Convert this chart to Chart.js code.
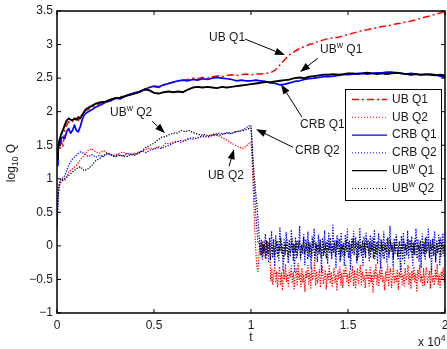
<!DOCTYPE html>
<html><head><meta charset="utf-8">
<script src="https://cdn.jsdelivr.net/npm/chart.js@4.4.1/dist/chart.umd.min.js"></script>
<style>html,body{margin:0;padding:0;background:#fff}</style>
</head><body>
<canvas id="c" width="447" height="349" style="width:447px;height:349px;display:block"></canvas>
<script>
// ---------- data (t in units of 10^4) ----------
const tQ1 = [0,0.005,0.01,0.015,0.02,0.03,0.04,0.05,0.06,0.07,0.08,0.09,0.1,0.11,0.12,0.13,0.14,0.15,
0.175,0.2,0.225,0.25,0.275,0.3,0.325,0.35,0.375,0.4,0.425,0.45,0.475,0.5,0.525,0.55,0.575,0.6,0.625,0.65,0.675,0.7,0.725,0.75,0.775,0.8,0.825,0.85,0.875,0.9,0.925,0.95,0.975,1.0,1.025,1.05,1.075,1.1,1.125,1.15,1.175,1.2,1.225,1.25,1.275,1.3,1.325,1.35,1.375,1.4,1.425,1.45,1.475,1.5,1.525,1.55,1.575,1.6,1.625,1.65,1.675,1.7,1.725,1.75,1.775,1.8,1.825,1.85,1.875,1.9,1.925,1.95,1.975,2.0];

const ubQ1 = [1.25,1.35,1.5,1.45,1.6,1.47,1.72,1.8,1.85,1.83,1.86,1.85,1.9,1.87,1.92,1.97,2.0,2.02,
2.05,2.1,2.12,2.15,2.18,2.2,2.22,2.24,2.25,2.27,2.3,2.33,2.36,2.37,2.36,2.4,2.42,2.44,2.46,2.47,2.48,2.5,2.49,2.51,2.5,2.52,2.53,2.52,2.54,2.55,2.54,2.55,2.56,2.55,2.56,2.56,2.57,2.58,2.62,2.7,2.78,2.85,2.9,2.94,2.97,3.0,3.02,3.05,3.07,3.09,3.1,3.11,3.13,3.15,3.17,3.19,3.21,3.22,3.24,3.25,3.27,3.28,3.29,3.31,3.32,3.34,3.35,3.37,3.39,3.41,3.43,3.45,3.47,3.49];

const crbQ1 = [1.2,1.45,1.55,1.5,1.6,1.62,1.6,1.7,1.75,1.68,1.72,1.8,1.72,1.7,1.78,1.88,1.95,1.98,
2.02,2.07,2.1,2.14,2.16,2.2,2.19,2.23,2.26,2.28,2.3,2.33,2.36,2.38,2.37,2.4,2.42,2.44,2.46,2.47,2.46,2.48,2.47,2.49,2.48,2.5,2.51,2.5,2.49,2.48,2.46,2.47,2.46,2.46,2.47,2.46,2.45,2.43,2.42,2.4,2.41,2.43,2.45,2.46,2.48,2.49,2.5,2.51,2.52,2.52,2.53,2.54,2.55,2.55,2.56,2.57,2.57,2.56,2.57,2.58,2.58,2.59,2.59,2.58,2.57,2.56,2.57,2.56,2.55,2.55,2.56,2.55,2.53,2.51];

const ubwQ1 = [1.3,1.45,1.55,1.6,1.65,1.72,1.8,1.87,1.9,1.88,1.87,1.9,1.88,1.92,1.9,1.95,2.0,2.04,
2.08,2.12,2.14,2.15,2.18,2.2,2.21,2.23,2.25,2.27,2.29,2.33,2.32,2.28,2.27,2.29,2.3,2.29,2.3,2.29,2.33,2.36,2.37,2.36,2.37,2.36,2.35,2.37,2.36,2.37,2.38,2.39,2.4,2.41,2.42,2.43,2.44,2.44,2.45,2.46,2.47,2.48,2.5,2.51,2.5,2.52,2.53,2.54,2.55,2.55,2.56,2.55,2.56,2.57,2.57,2.56,2.57,2.58,2.57,2.56,2.57,2.56,2.57,2.58,2.57,2.56,2.55,2.56,2.55,2.56,2.55,2.54,2.55,2.54];

const tQ2 = [0,0.004,0.008,0.012,0.02,0.04,0.06,0.08,0.1,0.12,0.14,0.16,0.18,0.2,0.22,0.24,0.26,0.28,0.3,0.32,0.34,0.36,0.38,0.4,0.42,0.44,0.46,0.48,0.5,0.52,0.54,0.56,0.58,0.6,0.62,0.64,0.66,0.68,0.7,0.72,0.74,0.76,0.78,0.8,0.82,0.84,0.86,0.88,0.9,0.92,0.94,0.96,0.98,1.0];

const ubQ2 = [0.3,0.6,0.85,0.95,1.0,0.98,1.1,1.15,1.2,1.28,1.35,1.42,1.45,1.4,1.38,1.42,1.38,1.36,1.35,1.38,1.4,1.37,1.36,1.38,1.37,1.42,1.44,1.46,1.45,1.48,1.47,1.53,1.52,1.55,1.56,1.54,1.58,1.6,1.59,1.61,1.62,1.63,1.62,1.64,1.65,1.63,1.6,1.57,1.53,1.5,1.47,1.45,1.5,1.55];
const crbQ2 = [0.25,0.55,0.8,0.92,0.98,1.05,1.2,1.3,1.35,1.4,1.38,1.33,1.36,1.32,1.35,1.33,1.37,1.35,1.33,1.36,1.34,1.38,1.37,1.36,1.4,1.41,1.39,1.43,1.44,1.46,1.45,1.48,1.5,1.53,1.55,1.57,1.56,1.6,1.61,1.6,1.63,1.64,1.63,1.66,1.67,1.68,1.67,1.69,1.68,1.7,1.71,1.73,1.77,1.8];
const ubwQ2 = [0.3,0.62,0.82,0.9,0.95,1.0,1.05,1.1,1.15,1.18,1.12,1.15,1.2,1.27,1.3,1.35,1.38,1.36,1.33,1.35,1.34,1.33,1.36,1.35,1.38,1.42,1.47,1.5,1.53,1.58,1.62,1.63,1.66,1.68,1.68,1.72,1.7,1.72,1.69,1.67,1.65,1.66,1.64,1.65,1.66,1.65,1.67,1.68,1.67,1.7,1.71,1.72,1.74,1.76];

const tDrop = [1.006,1.012,1.018,1.024,1.03,1.036];
const ubQ2Drop  = [1.25,0.80,0.35,-0.05,-0.30,-0.38];
const crbQ2Drop = [1.50,1.10,0.80,0.50,0.25,0.05];
const ubwQ2Drop = [1.50,1.20,1.00,0.80,0.63,0.40];

// noisy tails (values in hundredths of log10 Q), evenly spread from tailStart to tailEnd
const tailStart = 1.042, tailEnd = 2.0;
const ubQ2Tail = [-10,5,-14,3,-16,8,-6,-20,1,-12,4,-9,
-52,-33,-58,-41,-29,-55,-38,-62,-44,-31,-57,-40,-66,-35,-49,-27,-53,-42,-60,-36,
-47,-30,-56,-39,-64,-45,-33,-58,-26,-50,-41,-61,-34,-54,-43,-68,-37,-48,-29,-57,
-40,-63,-32,-51,-44,-25,-59,-38,-55,-46,-35,-62,-42,-30,-57,-48,-36,-65,-41,-52,
-28,-56,-39,-60,-45,-33,-54,-43,-67,-37,-50,-31,-58,-40,-62,-35,-47,-27,-55,-42,
-61,-38,-53,-44,-30,-59,-36,-64,-46,-33,-56,-41,-29,-58,-39,-52,-45,-63,-34,-50,
-40,-60,-32,-55,-43,-69,-37,-48,-28,-57,-42,-61,-36,-49,-31,-54,-45,-66,-38,-51,
-27,-59,-41,-34,-62,-47,-30,-56,-44,-53,-35,-65,-39,-48,-26,-58,-43,-60,-33,-52,
-46,-29,-57,-40,-63,-37,-50,-31,-55,-42,-67,-36,-49,-28,-54,-44,-61,-34,-58,-41,
-32,-56,-47,-38,-64,-30,-53,-45,-59,-35,-51,-27,-57,-43,-62,-39,-48,-33,-55,-46];
const crbQ2Tail = [5,-12,10,-20,2,-8,18,-15,6,-25,12,-5,22,-18,0,-30,15,-10,8,-22,
28,-6,4,-35,11,-14,20,-2,-26,9,-16,24,-9,3,-40,13,-19,7,-4,30,
-21,1,-12,17,-28,10,-7,21,-17,5,-33,14,-3,26,-13,2,-24,16,-8,9,
-38,12,-15,23,-5,6,-27,19,-11,4,-20,31,-9,8,-32,15,-2,11,-23,20,
-14,3,-29,17,-6,25,-18,7,-36,10,-10,22,-4,13,-25,5,-16,27,-8,1,
-31,14,-12,19,-3,9,-22,16,-7,12,-19,24,-11,6,-27,18,-1,-34,8,-15,
21,-6,2,-24,13,-17,29,-9,4,-30,11,-13,17,-2,-21,7,-37,15,-5,20,
-26,3,-10,23,-18,9,-8,14,-29,6,-14,26,-4,10,-23,1,-33,18,-12,5,
-20,13,-7,25,-16,8,-39,11,-3,21,-25,4,-11,16,-28,12,-6,19,-15,2];
const ubwQ2Tail = [13,-2,-15,6,-10,2,-18,8,-6,-13,4,-20,1,-9,10,-14,-3,7,-17,0,-8,
12,-12,-1,-19,5,-7,9,-16,3,-11,-4,11,-21,2,-9,6,-14,-2,8,-18,
1,-6,13,-12,-3,4,-20,7,-10,0,-15,10,-5,-22,5,-8,2,-13,9,-17,
-1,6,-11,3,-19,8,-7,-2,12,-14,0,-9,5,-16,7,-4,-12,10,-20,2,
-6,4,-15,9,-10,-1,6,-18,3,-8,11,-13,-3,5,-21,8,-5,1,-14,7,
-9,3,-17,10,-2,-11,6,-16,4,-7,12,-19,0,-12,7,-4,-15,9,-8,2,
-20,5,-10,11,-3,-13,8,-6,1,-18,4,-9,13,-16,-1,6,-11,3,-21,9,
-5,0,-14,10,-7,-2,7,-17,4,-12,11,-4,-19,2,-8,8,-13,-1,5,-15,
12,-10,-3,6,-18,3,-6,9,-14,1,-20,7,-9,-2,10,-16,4,-11,0,-7];

const xTicks = [0,0.5,1,1.5,2];
const yTicks = [-1,-0.5,0,0.5,1,1.5,2,2.5,3,3.5];

// ---------- helpers ----------
const FAM = '"Liberation Sans", Arial, Helvetica, sans-serif';
const TXT = '#1a1a1a';
const pts = (xs, ys) => xs.map((x, i) => ({x: x, y: ys[i]}));
const tailPts = ys => ys.map((y, i) => ({x: tailStart + i * (tailEnd - tailStart) / (ys.length - 1), y: y / 100}));
const fmt = v => (v < 0 ? '\u2212' + Math.abs(v) : String(v));

function richWidth(ctx, parts, size) {
  let w = 0;
  for (const [s, k] of parts) { ctx.font = (k ? size * 0.72 : size) + 'px ' + FAM; w += ctx.measureText(s).width; }
  return w;
}
function rich(ctx, parts, x, y, size) {
  let cx = x;
  ctx.textBaseline = 'middle'; ctx.textAlign = 'left';
  for (const [s, k] of parts) {
    const fs = k ? size * 0.72 : size;
    ctx.font = fs + 'px ' + FAM;
    const dy = k === 1 ? -size * 0.36 : (k === 2 ? size * 0.32 : 0);
    ctx.fillText(s, cx, y + dy);
    cx += ctx.measureText(s).width;
  }
}
function arrow(ctx, x0, y0, x1, y1) {
  const a = Math.atan2(y1 - y0, x1 - x0), L = 10, hw = 3.6;
  const bx = x1 - L * Math.cos(a), by = y1 - L * Math.sin(a);
  ctx.beginPath(); ctx.moveTo(x0, y0); ctx.lineTo(bx, by); ctx.stroke();
  ctx.beginPath(); ctx.moveTo(x1, y1);
  ctx.lineTo(bx + hw * Math.sin(a), by - hw * Math.cos(a));
  ctx.lineTo(bx - hw * Math.sin(a), by + hw * Math.cos(a));
  ctx.closePath(); ctx.fill();
}

// annotations: text anchor (left, middle) and arrow in data coordinates
const notes = [
  {parts: [['UB Q1', 0]], at: [0.784, 3.097], from: [0.969, 3.082], to: [1.175, 2.843]},
  {parts: [['UB', 0], ['w', 1], [' Q1', 0]], at: [1.356, 2.918], from: [1.345, 2.799], to: [1.253, 2.590]},
  {parts: [['CRB Q1', 0]], at: [1.253, 1.799], from: [1.263, 1.918], to: [1.155, 2.410]},
  {parts: [['CRB Q2', 0]], at: [1.227, 1.425], from: [1.216, 1.470], to: [1.026, 1.739]},
  {parts: [['UB', 0], ['w', 1], [' Q2', 0]], at: [0.273, 1.978], from: [0.490, 1.858], to: [0.557, 1.679]},
  {parts: [['UB Q2', 0]], at: [0.778, 1.052], from: [0.887, 1.187], to: [0.912, 1.440]}
];

const Q2DASH = [1.3, 1.4];
const datasets = [
  {label: 'UBw Q1', data: pts(tQ1, ubwQ1), borderColor: '#000000', borderWidth: 1.9, order: 0},
  {label: 'CRB Q1', data: pts(tQ1, crbQ1), borderColor: '#0000ff', borderWidth: 1.7, order: 1},
  {label: 'UB Q1', data: pts(tQ1, ubQ1), borderColor: '#ff0000', borderWidth: 1.5, borderDash: [7, 3, 2, 3], order: 2},
  {label: 'UBw Q2', data: pts(tQ2, ubwQ2).concat(pts(tDrop, ubwQ2Drop), tailPts(ubwQ2Tail)), borderColor: '#000000', borderWidth: 1.2, borderDash: Q2DASH, order: 3},
  {label: 'CRB Q2', data: pts(tQ2, crbQ2).concat(pts(tDrop, crbQ2Drop), tailPts(crbQ2Tail)), borderColor: '#0000ff', borderWidth: 1.2, borderDash: Q2DASH, order: 4},
  {label: 'UB Q2', data: pts(tQ2, ubQ2).concat(pts(tDrop, ubQ2Drop), tailPts(ubQ2Tail)), borderColor: '#ff0000', borderWidth: 1.2, borderDash: Q2DASH, order: 5}
];
datasets.forEach(d => { d.pointRadius = 0; d.tension = 0; d.fill = false; d.borderJoinStyle = 'round'; });

// legend order (as in the reference): dataset index + rich label
const legendItems = [
  {ds: 2, parts: [['UB Q1', 0]]},
  {ds: 5, parts: [['UB Q2', 0]]},
  {ds: 1, parts: [['CRB Q1', 0]]},
  {ds: 4, parts: [['CRB Q2', 0]]},
  {ds: 0, parts: [['UB', 0], ['w', 1], [' Q1', 0]]},
  {ds: 3, parts: [['UB', 0], ['w', 1], [' Q2', 0]]}
];

const decor = {
  id: 'decor',
  afterDatasetsDraw(chart) {
    const ctx = chart.ctx, a = chart.chartArea, xs = chart.scales.x, ys = chart.scales.y;
    ctx.save();
    // frame
    ctx.strokeStyle = '#000'; ctx.lineWidth = 1.5; ctx.setLineDash([]);
    ctx.strokeRect(a.left, a.top, a.right - a.left, a.bottom - a.top);
    // inward ticks on all four sides
    ctx.lineWidth = 1; ctx.beginPath();
    const TL = 4;
    xTicks.forEach(v => { const p = xs.getPixelForValue(v);
      ctx.moveTo(p, a.bottom); ctx.lineTo(p, a.bottom - TL); ctx.moveTo(p, a.top); ctx.lineTo(p, a.top + TL); });
    yTicks.forEach(v => { const p = ys.getPixelForValue(v);
      ctx.moveTo(a.left, p); ctx.lineTo(a.left + TL, p); ctx.moveTo(a.right, p); ctx.lineTo(a.right - TL, p); });
    ctx.stroke();

    // annotations
    ctx.fillStyle = TXT; ctx.strokeStyle = '#000'; ctx.lineWidth = 1;
    notes.forEach(n => {
      rich(ctx, n.parts, xs.getPixelForValue(n.at[0]), ys.getPixelForValue(n.at[1]), 12);
      ctx.fillStyle = '#000';
      arrow(ctx, xs.getPixelForValue(n.from[0]), ys.getPixelForValue(n.from[1]),
                 xs.getPixelForValue(n.to[0]), ys.getPixelForValue(n.to[1]));
      ctx.fillStyle = TXT;
    });

    // legend box
    const L = {left: a.right - 100, top: a.top + 78, right: a.right - 3, bottom: a.top + 190};
    ctx.fillStyle = '#fff';
    ctx.fillRect(L.left, L.top, L.right - L.left, L.bottom - L.top);
    ctx.strokeStyle = '#000'; ctx.lineWidth = 1;
    ctx.strokeRect(L.left + 0.5, L.top + 0.5, L.right - L.left - 1, L.bottom - L.top - 1);
    legendItems.forEach((it, i) => {
      const d = chart.data.datasets[it.ds];
      const y = L.top + 10.5 + i * 17.8;
      ctx.save();
      ctx.strokeStyle = d.borderColor; ctx.lineWidth = d.borderDash === Q2DASH ? 1 : 1.3;
      ctx.setLineDash(d.borderDash === Q2DASH ? [1, 2] : (d.borderDash || []));
      ctx.beginPath(); ctx.moveTo(L.left + 7, y); ctx.lineTo(L.left + 42, y); ctx.stroke();
      ctx.restore();
      ctx.fillStyle = TXT;
      rich(ctx, it.parts, L.left + 47, y, 12);
    });

    // axis titles
    ctx.fillStyle = TXT;
    ctx.font = '12px ' + FAM; ctx.textAlign = 'center'; ctx.textBaseline = 'middle';
    ctx.fillText('t', xs.getPixelForValue(1), 338);
    rich(ctx, [['x 10', 0], ['4', 1]], 418, 343, 12);
    ctx.save();
    ctx.translate(12, 163); ctx.rotate(-Math.PI / 2);
    const yp = [['log', 0], ['10', 2], [' Q', 0]];
    rich(ctx, yp, -richWidth(ctx, yp, 12) / 2, 0, 12);
    ctx.restore();
    ctx.restore();
  }
};

new Chart(document.getElementById('c'), {
  type: 'line',
  data: {datasets: datasets},
  options: {
    responsive: false, animation: false, devicePixelRatio: 1,
    layout: {padding: {top: 11, right: 2, left: 0, bottom: 0}},
    plugins: {legend: {display: false}, tooltip: {enabled: false}},
    scales: {
      x: {type: 'linear', min: 0, max: 2,
        grid: {display: false, drawTicks: false}, border: {display: false},
        ticks: {stepSize: 0.5, padding: 5, color: TXT, font: {family: FAM, size: 12}, maxRotation: 0, autoSkip: false, callback: v => fmt(v)},
        afterBuildTicks: s => { s.ticks = xTicks.map(v => ({value: v})); },
        afterFit: s => { s.height = 36; s.paddingLeft = 0; s.paddingRight = 0; }},
      y: {type: 'linear', min: -1, max: 3.5,
        grid: {display: false, drawTicks: false}, border: {display: false},
        ticks: {stepSize: 0.5, padding: 4, color: TXT, font: {family: FAM, size: 12}, autoSkip: false, callback: v => fmt(v)},
        afterBuildTicks: s => { s.ticks = yTicks.map(v => ({value: v})); },
        afterFit: s => { s.width = 57; s.paddingTop = 0; s.paddingBottom = 0; }}
    }
  },
  plugins: [decor]
});
</script>
</body></html>
